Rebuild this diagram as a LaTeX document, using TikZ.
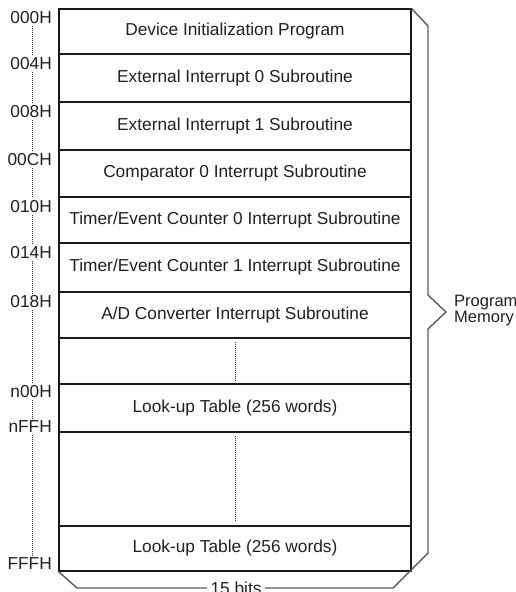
\documentclass[tikz,border=0pt]{standalone}
\usepackage{fontspec}
\setmainfont{Liberation Sans}
\usetikzlibrary{calc}
\begin{document}
\begin{tikzpicture}[x=1pt,y=-1pt,
  txt/.style={text=textc, font=\fontsize{17.3}{16}\selectfont},
  rowbox/.style={draw=boxc, line width=1.1pt, minimum width=352pt, inner sep=0pt, txt},
  addr/.style={anchor=east, inner sep=1pt, txt},
  dotline/.style={draw=dotc, line width=0.7pt, dash pattern=on 1pt off 1pt},
  brace/.style={draw=bracec, line width=1.4pt}]
\definecolor{textc}{HTML}{231F20}
\definecolor{boxc}{HTML}{1A1A1A}
\definecolor{bracec}{HTML}{5A5A5A}
\definecolor{dotc}{HTML}{333333}
\useasboundingbox (0,0) rectangle (516,592);
% rows
\node[rowbox, minimum height=45pt] (r1) at (235,31.5) {Device Initialization Program};
\node[rowbox, minimum height=48pt] (r2) at (235,78) {External Interrupt 0 Subroutine};
\node[rowbox, minimum height=48pt] (r3) at (235,126) {External Interrupt 1 Subroutine};
\node[rowbox, minimum height=47pt] (r4) at (235,173.5) {Comparator 0 Interrupt Subroutine};
\node[rowbox, minimum height=46pt] (r5) at (235,220) {Timer/Event Counter 0 Interrupt Subroutine};
\node[rowbox, minimum height=49pt] (r6) at (235,267.5) {Timer/Event Counter 1 Interrupt Subroutine};
\node[rowbox, minimum height=46pt] (r7) at (235,315) {A/D Converter Interrupt Subroutine};
\node[rowbox, minimum height=46pt] (r8) at (235,361) {};
\node[rowbox, minimum height=48pt] (r9) at (235,408) {Look-up Table (256 words)};
\node[rowbox, minimum height=94pt] (r10) at (235,479) {};
\node[rowbox, minimum height=45pt] (r11) at (235,548.5) {Look-up Table (256 words)};
% interior dotted lines
\draw[dotline] ([yshift=-5pt]r8.north) -- ([yshift=4pt]r8.south);
\draw[dotline] ([yshift=-5pt]r10.north) -- ([yshift=6pt]r10.south);
% address labels
\coordinate (xd) at (32,0);
\node[addr] (a0) at (53,17.5) {000H};
\node[addr] (a1) at (53,64) {004H};
\node[addr] (a2) at (53,111.5) {008H};
\node[addr] (a3) at (53,160) {00CH};
\node[addr] (a4) at (53,206.5) {010H};
\node[addr] (a5) at (53,252.5) {014H};
\node[addr] (a6) at (53,301.5) {018H};
\node[addr] (a7) at (53,392) {n00H};
\node[addr] (a8) at (53,427) {nFFH};
\node[addr] (a9) at (53,563.5) {FFFH};
\foreach \p/\q in {a0/a1,a1/a2,a2/a3,a3/a4,a4/a5,a5/a6,a6/a7,a7/a8,a8/a9}
  \draw[dotline] ($(\p.south -| xd)+(0,1)$) -- ($(\q.north -| xd)+(0,-1)$);
% bracket
\coordinate (tl) at (r1.north east);
\coordinate (bl) at (r11.south west);
\draw[brace] (tl) -- (428,26) -- (428,295) -- (446,312) -- (428,329) -- (428,553) -- (393,588) -- (77,588) -- (bl);
\node[txt, fill=white, inner sep=4pt] (bits) at (236,588) {15 bits};
\node[txt, font=\fontsize{16.5}{16}\selectfont, anchor=west, align=left, inner sep=0pt] (pm) at (454,310.5) {Program\\Memory};
\end{tikzpicture}
\end{document}
